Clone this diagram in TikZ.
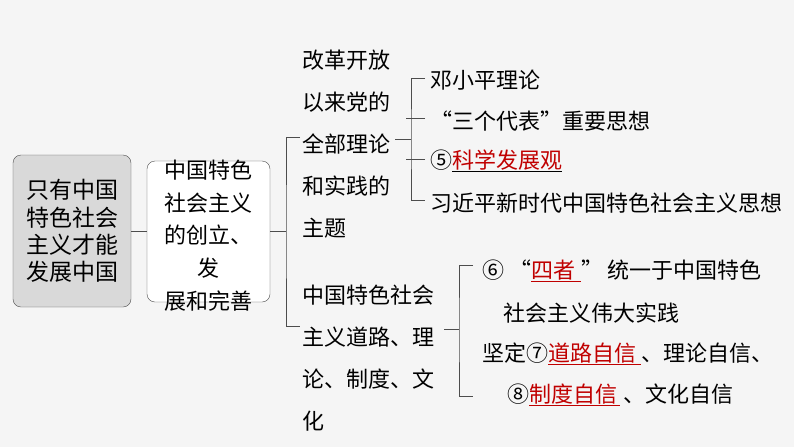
\documentclass[tikz,border=0pt]{standalone}
\usepackage{fontspec}
\setmainfont{Noto Sans CJK SC}
\usepackage{xcolor}
\usepackage{tikz}
\usetikzlibrary{positioning}

\definecolor{pagebg}{HTML}{F5F5F5}
\definecolor{boxgray}{HTML}{D9D9D9}
\definecolor{linegray}{HTML}{4D4D4D}
\definecolor{ansred}{HTML}{C00000}

% answer blanks: black rule / red rule
\newcommand{\ansblk}[1]{\underline{\textcolor{ansred}{#1}}}
\newcommand{\ansred}[1]{\textcolor{ansred}{\underline{#1}}}

\begin{document}
\begin{tikzpicture}[
    x=1pt, y=-1pt,
    every node/.style={font=\fontsize{22}{26}\selectfont},
    rootbox/.style={rectangle, rounded corners=8pt, draw=linegray, fill=boxgray, minimum width=118pt, minimum height=152pt, align=center, inner sep=0pt, font=\fontsize{23}{27.3}\selectfont},
    subbox/.style={rectangle, rounded corners=8pt, draw=linegray, fill=white, minimum width=123pt, minimum height=141pt},
    txt/.style={anchor=west, inner sep=0pt, text height=19.4pt, text depth=2.6pt},
    link/.style={draw=linegray, line width=0.8pt}
]
\fill[pagebg] (0,0) rectangle (794,447);
\useasboundingbox (0,0) rectangle (794,447);

% left boxes
\node (root) [rootbox] at (72,231) {只有中国\\特色社会\\主义才能\\发展中国};
\node (dev) [subbox] at (208.5,231.5) {};
\node (devtxt) [align=center, inner sep=0pt, font=\fontsize{22}{32.75}\selectfont] at (208.5,235.5) {中国特色\\社会主义\\的创立、\\发\\展和完善};

% middle column
\foreach \t [count=\i] in {改革开放,以来党的,全部理论,和实践的,主题}
    \node (q\i) [txt] at (302,18+42*\i) {\t};
\foreach \t [count=\i] in {中国特色社会,主义道路、理,论、制度、文,化}
    \node (p\i) [txt] at (302,253+42*\i) {\t};

% theories
\node (r1) [txt] at (430,80) {邓小平理论};
\node (r2) [txt] at (430,121) {“三个代表”重要思想};
\node (r3) [txt] at (430,160) {⑤\ansblk{科学发展观}};
\node (r4) [txt] at (430,203) {习近平新时代中国特色社会主义思想};

% four self-confidences
\node (s1) [txt] at (482,270) {⑥\hspace{5pt}“\ansred{四者\hspace{6pt}}”\hspace{4pt}统一于中国特色};
\node (s2) [txt] at (503,313) {社会主义伟大实践};
\node (s3) [txt] at (482,353) {坚定⑦\ansred{道路自信\hspace{5pt}}、理论自信、};
\node (s4) [txt] at (507,394) {⑧\ansred{制度自信\hspace{3pt}}\hspace{3pt}、文化自信};

% brackets
\coordinate (b1) at (286,231.5);
\coordinate (b2) at (411,139);
\coordinate (b3) at (459,329);

\draw [link] (root.east) -- (root.east -| dev.west);
\draw [link] (dev.east) -- (b1);
\draw [link] ([shift={(-2,-7)}]q3.west) -| (b1) |- ([shift={(-2,-11)}]p2.west);

\draw [link] ([shift={(5,-5)}]q3.east) -- (b2);
\draw [link] ([shift={(-5,-2)}]r1.west) -| (b2) |- ([shift={(-5,-3)}]r4.west);
\draw [link] ([shift={(-5,-3)}]r2.west) -- ([shift={(-5,-3)}]r2.west -| b2);
\draw [link] ([shift={(-5,-1)}]r3.west) -- ([shift={(-5,-1)}]r3.west -| b2);

\draw [link] ([shift={(10,-8)}]p2.east) -- (b3);
\draw [link] ([shift={(-9,-5)}]s1.west) -| (b3) |- ([shift={(-34,2)}]s4.west);
\end{tikzpicture}
\end{document}
